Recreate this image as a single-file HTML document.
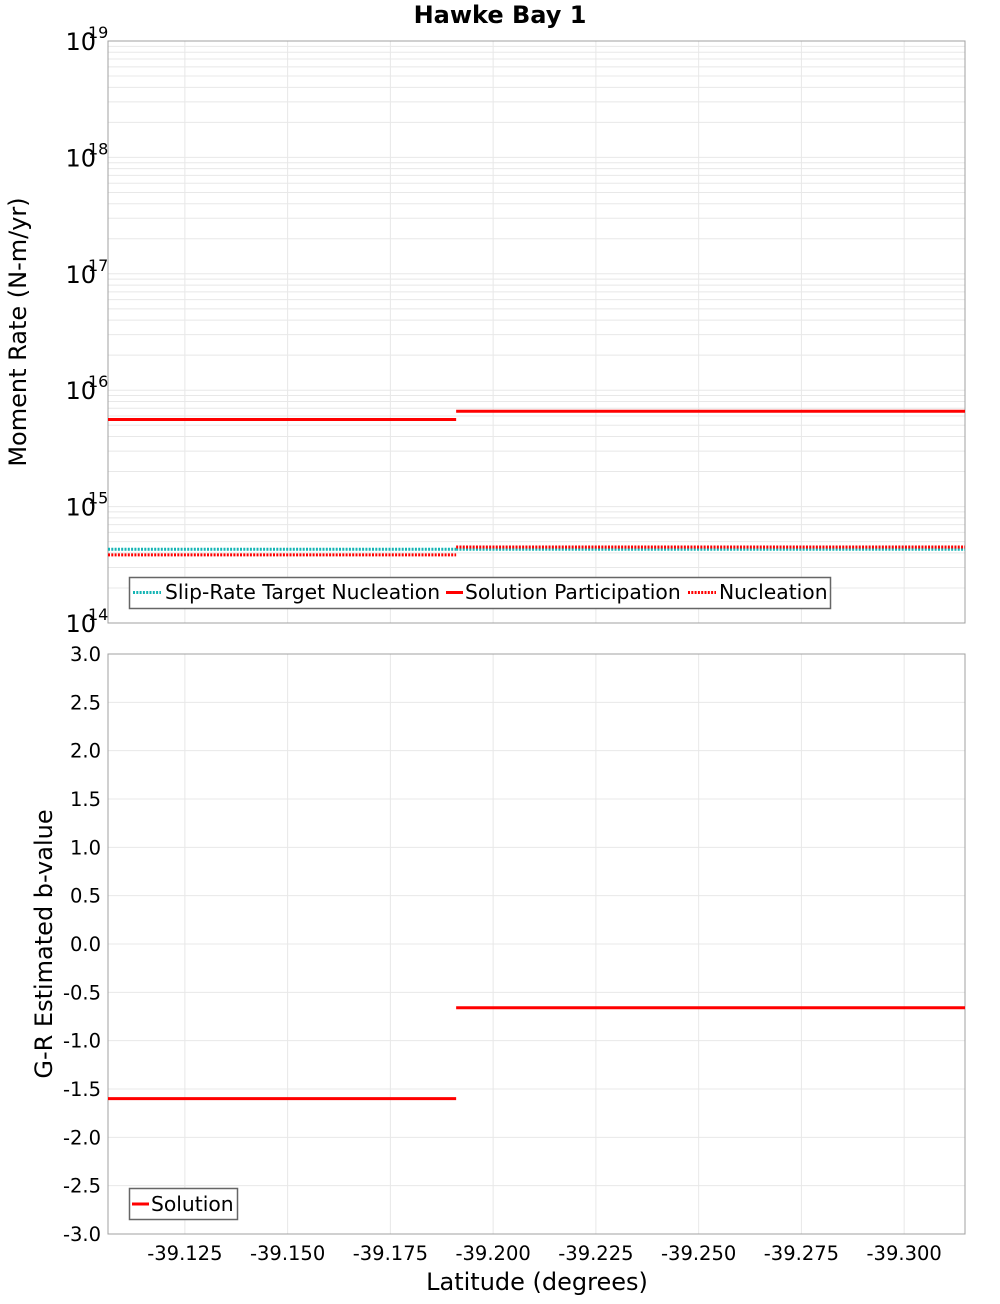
<!DOCTYPE html>
<html><head><meta charset="utf-8"><style>
body{margin:0;background:#fff;font-family:"DejaVu Sans","Liberation Sans",sans-serif;}
svg text{font-family:"DejaVu Sans","Liberation Sans",sans-serif;}
</style></head><body>
<svg id="c" width="1000" height="1300" xmlns="http://www.w3.org/2000/svg"></svg>
<script>
// data
const segBounds = [-39.1063, -39.191, -39.3148];
const targetNucleation = [4.3e14, 4.3e14];
const solutionParticipation = [5.6e15, 6.6e15];
const nucleation = [3.85e14, 4.5e14];
const bValues = [-1.60, -0.66];
const xTicks = [-39.125, -39.150, -39.175, -39.200, -39.225, -39.250, -39.275, -39.300];
const bTicks = [3.0, 2.5, 2.0, 1.5, 1.0, 0.5, 0.0, -0.5, -1.0, -1.5, -2.0, -2.5, -3.0];
const logDecades = [14, 15, 16, 17, 18, 19];

const svg = document.getElementById('c');
const NS = 'http://www.w3.org/2000/svg';
function mk(tag, attrs, parent, text){
  const e = document.createElementNS(NS, tag);
  for (const k in attrs) e.setAttribute(k, attrs[k]);
  if (text !== undefined) e.textContent = text;
  (parent || svg).appendChild(e);
  return e;
}
const L = 108, R = 965;
const T1 = 41, B1 = 623, T2 = 654, B2 = 1234;
const xMin = segBounds[0], xMax = segBounds[segBounds.length - 1];
const xs = v => L + (v - xMin) / (xMax - xMin) * (R - L);
const y1 = v => T1 + (19 - Math.log10(v)) / 5 * (B1 - T1);
const y2 = v => T2 + (3 - v) / 6 * (B2 - T2);

// title
let t = mk('text', {x: 500, y: 23, 'text-anchor': 'middle', 'font-size': 24, 'font-weight': 'bold'}, svg, 'Hawke Bay 1');



// grids
const g1 = mk('g', {}, svg);


for (let d = 14; d < 19; d++) {
  for (let m = 1; m <= 9; m++) {
    const yy = y1(m * Math.pow(10, d));
    mk('line', {x1: L, x2: R, y1: yy, y2: yy, stroke: '#e8e8e8', 'stroke-width': 1}, g1);
  }
}
xTicks.forEach(v => { const xx = xs(v); mk('line', {x1: xx, x2: xx, y1: T1, y2: B1, stroke: '#e8e8e8'}, g1); mk('line', {x1: xx, x2: xx, y1: T2, y2: B2, stroke: '#e8e8e8'}, g1); });
bTicks.forEach(v => { const yy = y2(v); mk('line', {x1: L, x2: R, y1: yy, y2: yy, stroke: '#e8e8e8'}, g1); });

// frames
let f = mk('rect', {x: L, y: T1, width: R - L, height: B1 - T1, fill: 'none', stroke: '#a0a0a0'});


f = mk('rect', {x: L, y: T2, width: R - L, height: B2 - T2, fill: 'none', stroke: '#a0a0a0'});



// log tick labels
logDecades.forEach(d => {
  const yy = y1(Math.pow(10, d));
  const tt = mk('text', {x: 96, y: yy + 9, 'text-anchor': 'end', 'font-size': 24}, svg, '10');
  
  
  const ex = mk('text', {x: 88, y: yy - 3, 'font-size': 16}, svg, String(d));
  
  
});
bTicks.forEach(v => {
  const tt = mk('text', {x: 101, y: y2(v) + 7, 'text-anchor': 'end', 'font-size': 19.5}, svg, v.toFixed(1));
  
  
});
xTicks.forEach(v => {
  const tt = mk('text', {x: xs(v), y: 1260, 'text-anchor': 'middle', 'font-size': 19.5}, svg, v.toFixed(3));
  
  
});

// axis titles
t = mk('text', {x: 0, y: 0, 'text-anchor': 'middle', 'font-size': 24, transform: 'translate(26,332) rotate(-90)'}, svg, 'Moment Rate (N-m/yr)');


t = mk('text', {x: 0, y: 0, 'text-anchor': 'middle', 'font-size': 24, transform: 'translate(52,944) rotate(-90)'}, svg, 'G-R Estimated b-value');


t = mk('text', {x: 537, y: 1290, 'text-anchor': 'middle', 'font-size': 24}, svg, 'Latitude (degrees)');



// series
function drawSeries(vals, yf, color, dash, name){
  const g = mk('g', {}, svg);
  
  
  vals.forEach((v, i) => {
    const a = {x1: xs(segBounds[i]), x2: xs(segBounds[i + 1]), y1: yf(v), y2: yf(v), stroke: color, 'stroke-width': 3};
    if (dash) a['stroke-dasharray'] = '2,1.3';
    const ln = mk('line', a, g);
    
    
  });
}
drawSeries(targetNucleation, y1, '#14b4b4', true, 'slip-rate-target-nucleation-series');
drawSeries(nucleation, y1, '#ff0000', true, 'nucleation-series');
drawSeries(solutionParticipation, y1, '#ff0000', false, 'solution-participation-series');
drawSeries(bValues, y2, '#ff0000', false, 'b-value-solution-series');

// legends
const lg = mk('g', {}, svg);


mk('rect', {x: 129.5, y: 577.5, width: 701, height: 31, fill: '#fff', stroke: '#666', 'stroke-width': 1.5}, lg);
mk('line', {x1: 133, x2: 161, y1: 592.5, y2: 592.5, stroke: '#14b4b4', 'stroke-width': 3, 'stroke-dasharray': '2,1.3'}, lg);
mk('text', {x: 165, y: 599, 'font-size': 20.3}, lg, 'Slip-Rate Target Nucleation');
mk('line', {x1: 446, x2: 463, y1: 592.5, y2: 592.5, stroke: '#ff0000', 'stroke-width': 3}, lg);
mk('text', {x: 465, y: 599, 'font-size': 20.3}, lg, 'Solution Participation');
mk('line', {x1: 688, x2: 716, y1: 592.5, y2: 592.5, stroke: '#ff0000', 'stroke-width': 3, 'stroke-dasharray': '2,1.3'}, lg);
mk('text', {x: 719, y: 599, 'font-size': 20.3}, lg, 'Nucleation');

const lg2 = mk('g', {}, svg);


mk('rect', {x: 129.5, y: 1188.5, width: 108, height: 31, fill: '#fff', stroke: '#666', 'stroke-width': 1.5}, lg2);
mk('line', {x1: 132, x2: 149, y1: 1204, y2: 1204, stroke: '#ff0000', 'stroke-width': 3}, lg2);
mk('text', {x: 151, y: 1211, 'font-size': 20.3}, lg2, 'Solution');
</script>
</body></html>
